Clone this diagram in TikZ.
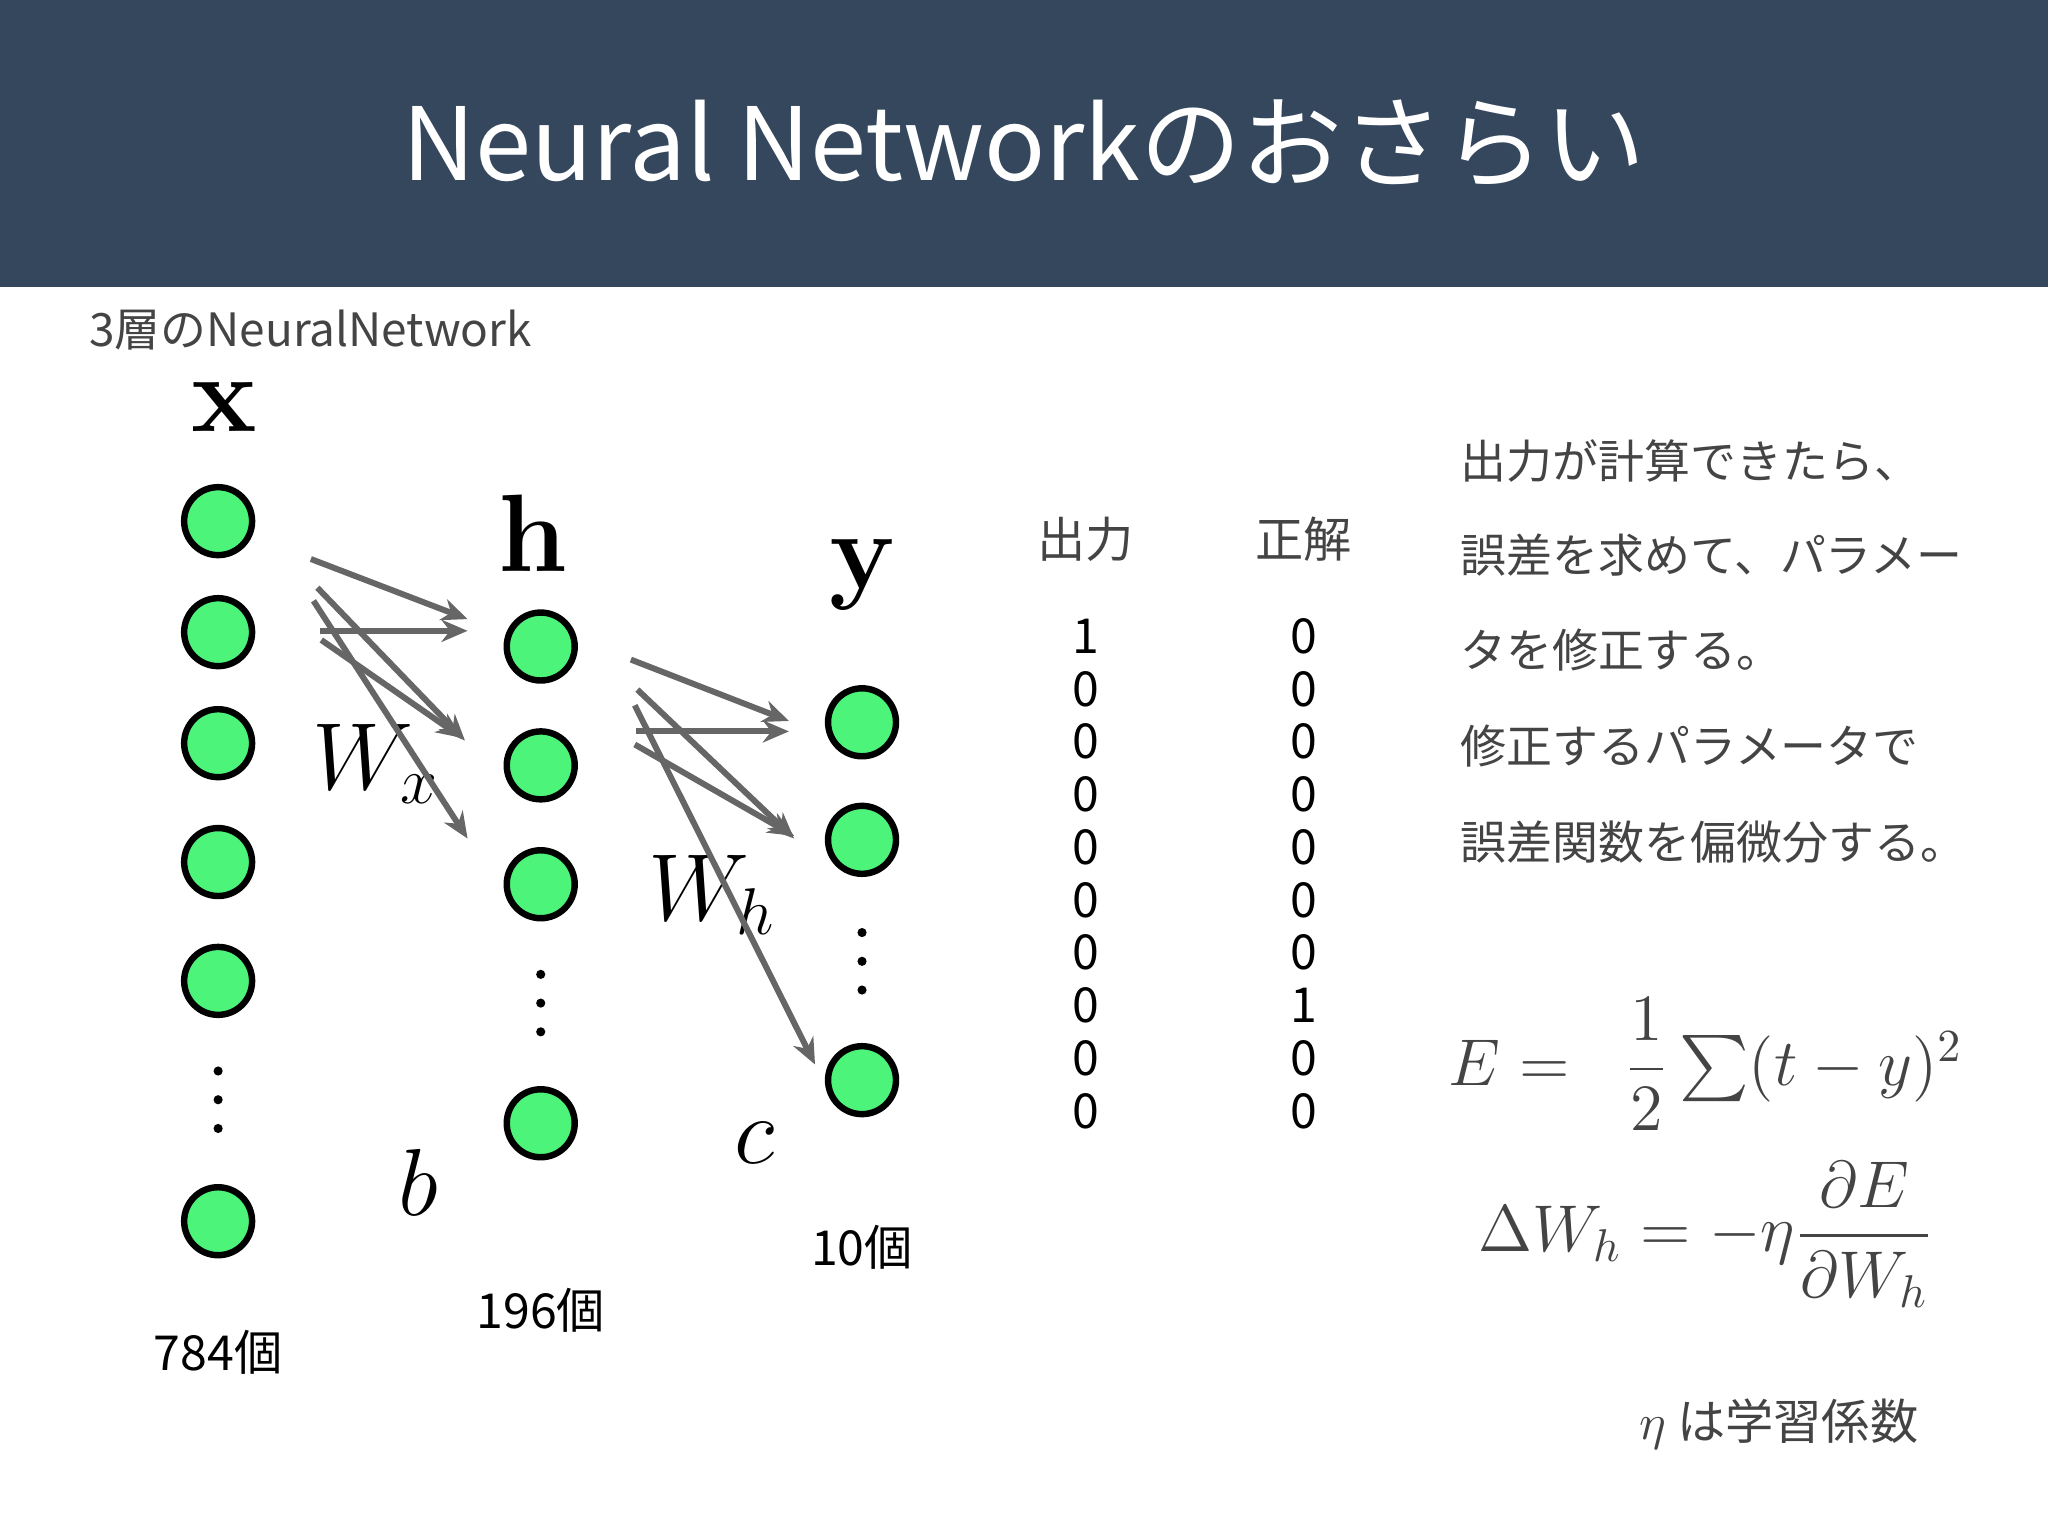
\documentclass[tikz,border=0pt]{standalone}
\usepackage{fontspec}
\setmainfont{Noto Sans CJK JP}
\newfontfamily\lmr{Latin Modern Roman}
\usepackage{amsmath}
\usetikzlibrary{arrows.meta}
\definecolor{hdr}{HTML}{35475D}
\definecolor{grn}{HTML}{4CF57A}
\definecolor{arr}{HTML}{666666}
\definecolor{txt}{HTML}{444444}
\tikzset{
 neuron/.style={circle,draw=black,line width=1.4pt,fill=grn,minimum size=0.52cm,inner sep=0},
 vd/.style={circle,fill=black,inner sep=0,minimum size=0.07cm},
 warr/.style={draw=arr,line width=1.3pt,-{Stealth[length=0.2cm,width=0.17cm]}},
 lbl/.style={font=\fontsize{24}{26}\selectfont\lmr\bfseries},
 wl/.style={font=\fontsize{22}{24}\selectfont},
 num/.style={font=\fontsize{10.5}{12}\selectfont,text=black},
 rt/.style={font=\fontsize{10}{12}\selectfont,text=txt,anchor=west},
}
\begin{document}
\begin{tikzpicture}[x=0.01cm,y=-0.01cm]
\useasboundingbox (0,0) rectangle (1568,1176);
\fill[hdr] (0,0) rectangle (1568,220);
\node[text=white,font=\fontsize{22}{24}\selectfont] (title) at (784,110) {Neural Networkのおさらい};
\node[anchor=west,text=txt,font=\fontsize{10}{12}\selectfont] (sub) at (56,253) {3層のNeuralNetwork};
\foreach \i/\y in {1/399,2/484,3/569,4/660,5/751,6/935} \node[neuron] (x\i) at (167,\y) {};
\foreach \i/\y in {1/820,2/842,3/864} \node[vd] (xd\i) at (167,\y) {};
\foreach \i/\y in {1/495,2/586,3/677,4/860} \node[neuron] (h\i) at (414,\y) {};
\foreach \i/\y in {1/746,2/768,3/790} \node[vd] (hd\i) at (414,\y) {};
\foreach \i/\y in {1/553,2/643,3/827} \node[neuron] (y\i) at (660,\y) {};
\foreach \i/\y in {1/714,2/736,3/758} \node[vd] (yd\i) at (660,\y) {};
\node[lbl] (lx) at (172,312) {x};
\node[lbl] (lh) at (408,408) {h};
\node[lbl] (ly) at (660,440) {y};
\node[wl] (lwx) at (288,585) {$W_x$};
\node[wl] (lb) at (320,905) {$b$};
\node[wl] (lwh) at (545,685) {$W_h$};
\node[wl] (lc) at (578,875) {$c$};
\coordinate (a1) at (238,428); \coordinate (b1) at (358,474);
\coordinate (a2) at (243,450); \coordinate (b2) at (356,567);
\coordinate (a3) at (240,460); \coordinate (b3) at (358,642);
\coordinate (a4) at (245,483); \coordinate (b4) at (358,483);
\coordinate (a5) at (246,490); \coordinate (b5) at (354,565);
\foreach \i in {1,...,5} \draw[warr] (a\i) -- (b\i);
\coordinate (c1) at (483,505); \coordinate (d1) at (604,552);
\coordinate (c2) at (487,560); \coordinate (d2) at (604,560);
\coordinate (c3) at (486,570); \coordinate (d3) at (608,640);
\coordinate (c4) at (488,528); \coordinate (d4) at (608,642);
\coordinate (c5) at (486,540); \coordinate (d5) at (624,815);
\foreach \i in {1,...,5} \draw[warr] (c\i) -- (d\i);
\node[num] (n1) at (167,1035) {784個};
\node[num] (n2) at (414,1003) {196個};
\node[num] (n3) at (660,955) {10個};
\node[num,text=txt] (co) at (831,413) {出力};
\node[num,text=txt] (ca) at (998,413) {正解};
\foreach \i/\v in {0/1,1/0,2/0,3/0,4/0,5/0,6/0,7/0,8/0,9/0} \node[num] (o\i) at (831,{487+40.4*\i}) {\v};
\foreach \i/\v in {0/0,1/0,2/0,3/0,4/0,5/0,6/0,7/1,8/0,9/0} \node[num] (t\i) at (998,{487+40.4*\i}) {\v};
\node[rt] (r1) at (1106,353) {出力が計算できたら、};
\node[rt] (r2) at (1106,425) {誤差を求めて、パラメー};
\node[rt] (r3) at (1106,498) {タを修正する。};
\node[rt] (r4) at (1106,571) {修正するパラメータで};
\node[rt] (r5) at (1106,645) {誤差関数を偏微分する。};
\node[font=\fontsize{14}{17}\selectfont,text=txt] (eq1) at (1306,815) {$E = \;\; \dfrac{1}{2}\sum(t-y)^2$};
\node[font=\fontsize{14}{17}\selectfont,text=txt] (eq2) at (1306,945) {$\Delta W_h = -\eta\dfrac{\partial E}{\partial W_h}$};
\node[num,text=txt] (eta) at (1362,1090) {$\eta$ は学習係数};
\end{tikzpicture}
\end{document}
